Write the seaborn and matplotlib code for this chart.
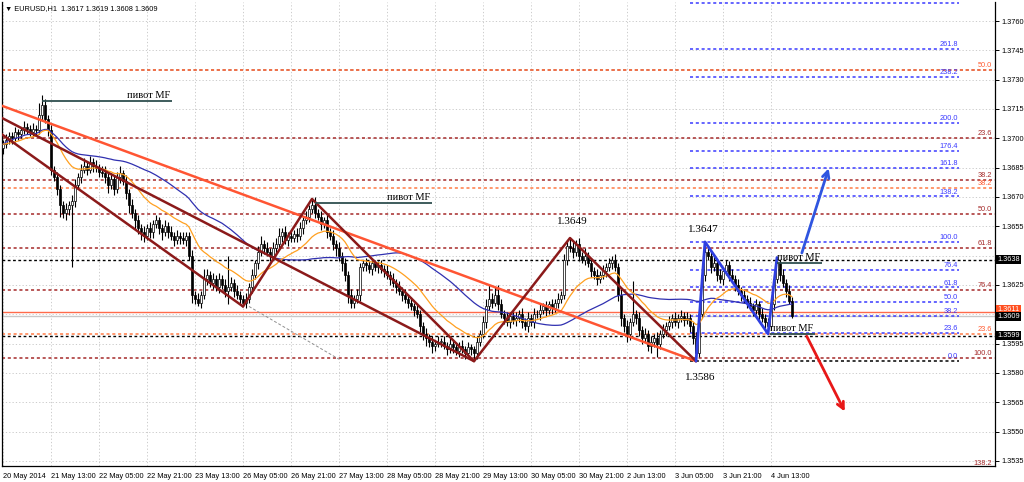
import numpy as np
import pandas as pd
import matplotlib
matplotlib.use("Agg")
import matplotlib.pyplot as plt
import seaborn as sns

# ---------------- data (EURUSD H1, pips relative to BASE) ----------------
BASE = 1.3600
first_open_pips = 95
close_pips = [
    97, 99, 101, 100, 103, 102, 104, 106, 105, 103, 105, 104,
    112, 117, 110, 104,
    84, 80, 74, 66, 62, 64, 66,
    68,
    76, 80, 84,
    86, 84, 88, 86, 85, 83, 82,
    80, 76, 79, 74,
    80, 82, 78,
    72, 66, 62,
    58, 54, 52, 50, 54,
    52, 56, 58, 54, 52,
    55, 52, 50, 48, 50,
    49, 48, 50,
    40, 20, 18, 16,
    20, 28, 30, 26,
    28, 24, 28, 25, 22, 24,
    26, 22, 20, 18, 16,
    18, 24, 30, 36, 42, 46, 44,
    42, 40, 44,
    46, 50, 52, 48, 50, 49, 51, 50,
    54, 58, 60,
    64, 66, 62, 60,
    56, 58, 52, 50,
    46, 44, 40, 36, 30,
    20, 16, 18, 20,
    34, 36, 35, 33, 36, 34, 35, 33,
    32, 30, 28, 26, 24,
    22, 20, 18, 16, 14, 12, 10,
    4, 0, -2, -4, -6, -5, -4,
    -4, -6, -8, -5, -7, -9, -6, -8, -10, -7, -8,
    -10,
    -4, 0, 6, 14, 18, 16, 20, 15,
    10, 8, 6, 9, 7, 8, 10,
    6, 4, 8, 6, 10,
    10, 12, 14, 12, 15, 13, 16, 18,
    20, 38, 45,
    44, 42, 46, 40, 38, 40, 36,
    32, 30, 28, 30, 32, 34,
    36, 38, 34, 20,
    8, 4, 0, 6, 10, 8, 2,
    -2, 0, -6, -4, -2, -5,
    0, 2, 4, 6, 8, 6, 8, 9, 7, 8,
    4, -2, -10,
    10, 30, 42,
    40, 34, 36, 30, 28, 32, 35, 30, 28,
    25, 22, 20, 18, 16, 14, 12, 15,
    10, 8, 6, 4,
    15, 28, 36,
    30, 26, 22, 17, 9,
]
up_wick = [
    2, 3, 2, 2, 3, 2, 2, 3, 2, 2,  3, 2, 6, 5, 3, 2, 3, 2, 3, 2,
    2, 3, 2, 3, 3, 2, 3, 4, 2, 3,  2, 3, 2, 3, 4, 2, 3, 2, 3, 4,
    2, 3, 2, 3, 2, 3, 2, 3, 2, 3,  2, 3, 2, 2, 3, 2, 3, 2, 3, 2,
    3, 2, 2, 3, 2, 3, 2, 5, 3, 2,  3, 2, 3, 2, 3, 16, 3, 2, 3, 2,
    2, 3, 2, 3, 2, 3, 4, 2, 3, 2,  3, 3, 4, 2, 3, 2, 3, 2, 3, 3,
    2, 3, 2, 3, 4, 2, 3, 2, 3, 2,  3, 2, 3, 2, 3, 2, 3, 2, 3, 2,
    2, 3, 2, 3, 2, 2, 3, 2, 3, 2,  3, 2, 3, 2, 3, 2, 3, 2, 3, 2,
    2, 3, 2, 3, 2, 3, 2, 3, 2, 3,  2, 3, 2, 3, 2, 3, 2, 2, 3, 2,
    3, 4, 7, 3, 4, 5, 3, 2, 3, 2,  2, 3, 2, 3, 2, 3, 2, 3, 2, 3,
    2, 3, 2, 3, 2, 3, 2, 3, 3, 4,  3, 2, 3, 2, 4, 2, 3, 2, 3, 2,
    3, 2, 3, 2, 3, 2, 3, 2, 3, 2,  17, 2, 3, 2, 3, 2, 3, 2, 3, 2,
    3, 2, 3, 2, 3, 2, 3, 2, 3, 2,  2, 3, 2, 3, 5, 2, 3, 4, 2, 3,
    2, 3, 2, 3, 2, 3, 2, 3, 2, 3,  2, 3, 2, 3, 2, 2, 3, 2, 3, 2,
    3, 2, 3, 2,
]
down_wick = [
    3, 2, 2, 3, 2, 3, 2, 2, 3, 2,  2, 3, 2, 3, 2, 3, 3, 2, 3, 6,
    3, 4, 3, 32, 3, 2, 3, 2, 3, 2,  3, 2, 3, 2, 3, 4, 2, 3, 2, 3,
    2, 3, 4, 3, 5, 3, 4, 3, 2, 3,  3, 2, 3, 4, 2, 3, 2, 3, 2, 3,
    2, 3, 2, 4, 3, 2, 3, 2, 3, 2,  3, 2, 3, 2, 3, 7, 2, 3, 2, 3,
    2, 3, 2, 3, 2, 3, 2, 3, 2, 3,  2, 3, 2, 3, 2, 3, 2, 2, 3, 2,
    3, 2, 3, 2, 3, 2, 3, 2, 3, 2,  3, 4, 3, 4, 3, 4, 3, 3, 2, 3,
    2, 3, 2, 3, 2, 3, 2, 3, 2, 3,  2, 3, 2, 3, 2, 3, 2, 3, 2, 3,
    3, 4, 3, 4, 3, 2, 3, 2, 3, 2,  3, 2, 3, 2, 3, 2, 3, 4, 3, 2,
    2, 3, 2, 3, 2, 3, 2, 3, 2, 3,  2, 3, 2, 3, 2, 3, 2, 3, 2, 3,
    2, 3, 2, 3, 2, 3, 2, 2, 3, 2,  3, 2, 3, 2, 3, 2, 3, 2, 3, 2,
    2, 3, 2, 3, 2, 3, 4, 3, 4, 3,  2, 3, 3, 3, 2, 3, 4, 3, 7, 3,
    2, 3, 2, 3, 2, 3, 2, 3, 2, 3,  3, 4, 2, 2, 3, 2, 3, 2, 3, 2,
    3, 2, 3, 2, 3, 2, 3, 2, 3, 2,  3, 2, 3, 2, 3, 4, 2, 3, 2, 3,
    2, 3, 2, 1,
]

x_tick_bars = [0, 16, 32, 48, 64, 80, 96, 112, 128, 144, 160, 176, 192, 208, 224, 240, 256]
x_tick_labels = ["20 May 2014", "21 May 13:00", "22 May 05:00", "22 May 21:00", "23 May 13:00",
                 "26 May 05:00", "26 May 21:00", "27 May 13:00", "28 May 05:00", "28 May 21:00",
                 "29 May 13:00", "30 May 05:00", "30 May 21:00", "2 Jun 13:00", "3 Jun 05:00",
                 "3 Jun 21:00", "4 Jun 13:00"]
y_ticks = [1.3760, 1.3745, 1.3730, 1.3715, 1.3700, 1.3685, 1.3670, 1.3655, 1.3640,
           1.3625, 1.3610, 1.3595, 1.3580, 1.3565, 1.3550, 1.3535]
y_hidden_ticks = [1.3640, 1.3610]   # covered by price boxes

# Fibonacci objects
fib_red_0, fib_red_100 = 1.37349, 1.35876
fib_red_levels = [0.0, 23.6, 38.2, 50.0, 61.8, 76.4, 100.0, 138.2]
fib_orange_0, fib_orange_100 = 1.34794, 1.39904
fib_orange_levels = [23.6, 38.2, 50.0]
fib_blue_0, fib_blue_100 = 1.3586, 1.3647
fib_blue_levels = [0.0, 23.6, 38.2, 50.0, 61.8, 76.4, 100.0, 138.2, 161.8, 176.4, 200.0, 238.2, 261.8, 300.0]

# horizontal price lines
black_hlines = [1.3638, 1.3599]
bid_price = 1.3609
red_hline = 1.3611

# trend lines (bar index, price)
orange_trend_bars, orange_trend_prices = [-1, 231], [1.37170, 1.3586]
red_upper_bars, red_upper_prices = [-1, 157], [1.37109, 1.3586]
red_lower_bars, red_lower_prices = [-1, 80], [1.37027, 1.3614]
grey_ext_bars, grey_ext_prices = [82, 112], [1.3614, 1.3587]
red_zz_bars, red_zz_prices = [80, 103, 157, 189, 231], [1.3614, 1.3669, 1.3586, 1.3649, 1.3586]
blue_zz_bars, blue_zz_prices = [231, 234, 255, 258], [1.3586, 1.3647, 1.3600, 1.3639]
blue_arrow = [(266.0, 1.3640), (275.5, 1.3686)]
red_arrow = [(267.5, 1.3600), (281.0, 1.3559)]

pivot_start = [13, 104, 258, 255.7]
pivot_end = [56.3, 143, 273, 270.7]
pivot_price = [1.3719, 1.3667, 1.3636, 1.3600]

price_notes = ["1.3649", "1.3647", "1.3586"]
price_note_pos = [(189.7, 1.36572), (233.3, 1.36535), (232.3, 1.35779)]

title = "\u25bc EURUSD,H1  1.3617 1.3619 1.3608 1.3609"

# ---------------- derived ----------------
n = len(close_pips)
bars = np.arange(n)
close = BASE + np.array(close_pips) / 1e4
opn = BASE + np.array([first_open_pips] + close_pips[:-1]) / 1e4
high = np.maximum(opn, close) + np.array(up_wick) / 1e4
low = np.minimum(opn, close) - np.array(down_wick) / 1e4
df = pd.DataFrame({"bar": bars, "close": close})
df["ema"] = df["close"].ewm(span=21, adjust=False).mean()
df["sma"] = df["close"].rolling(50, min_periods=1).mean()

# ---------------- plot ----------------
sns.set_style("white")
SANS = ["Liberation Sans", "DejaVu Sans"]
SERIF = ["Liberation Serif", "DejaVu Serif"]
plt.rcParams["font.family"] = SANS
FS = 5.3

fig = plt.figure(figsize=(10.24, 4.82), dpi=100)
ax = fig.add_axes([2 / 1024, 16 / 482, 993 / 1024, 464 / 482])
XL, XR = -1 / 3, 331 - 1 / 3
ax.set_xlim(XL, XR)
ax.set_ylim(1.353238, 1.376972)

# ticks + grid
ax.set_xticks(x_tick_bars)
ax.set_xticklabels(x_tick_labels, ha="left", fontsize=FS)
ax.yaxis.tick_right()
ax.set_yticks(y_ticks)
ax.set_yticklabels(["" if v in y_hidden_ticks else f"{v:.4f}" for v in y_ticks], fontsize=FS)
ax.tick_params(axis="both", length=3, width=0.7, pad=1.5, colors="black")
ax.tick_params(axis="x", pad=2)
ax.grid(True, color="#c4c4c4", linestyle=(0, (1.5, 2.5)), linewidth=0.6)
ax.set_axisbelow(True)
for s in ["left", "right", "bottom"]:
    ax.spines[s].set_color("black")
    ax.spines[s].set_linewidth(0.9)
ax.spines["top"].set_visible(False)

DOT = (0, (2, 1.8))
# red fib
for lv in fib_red_levels:
    p = fib_red_0 + (fib_red_100 - fib_red_0) * lv / 100
    ax.hlines(p, XL, XR, colors="#a52a2a", linestyles=DOT, lw=1.1, zorder=2)
    if lv != 0.0:
        ax.text(329.7, p + 0.00004, f"{lv:.1f}", color="#a52a2a", fontsize=FS,
                ha="right", va="bottom", zorder=4, clip_on=True)
# orange fib
for lv in fib_orange_levels:
    p = fib_orange_0 + (fib_orange_100 - fib_orange_0) * lv / 100
    ax.hlines(p, XL, XR, colors="#ff7a45", linestyles=DOT, lw=1.1, zorder=2)
    ax.text(329.7, p + 0.00004, f"{lv:.1f}", color="#ff5a30", fontsize=FS,
            ha="right", va="bottom", zorder=4, clip_on=True)
# black horizontals
for p in black_hlines:
    ax.hlines(p, XL, XR, colors="black", linestyles=DOT, lw=1.0, zorder=2)
# blue fib
for lv in fib_blue_levels:
    p = fib_blue_0 + (fib_blue_100 - fib_blue_0) * lv / 100
    col = "black" if lv == 0.0 else "#3a3aff"
    ax.hlines(p, 229, 318.5, colors=col, linestyles=DOT, lw=1.1, zorder=2.1)
    if p < 1.3765:
        ax.text(318.3, p + 0.00004, f"{lv:.1f}", color="#3a3aff", fontsize=FS,
                ha="right", va="bottom", zorder=4, clip_on=True)

# bid & red horizontal
ax.axhline(red_hline, color="#ff6a4a", lw=1.0, zorder=2)
ax.axhline(bid_price, color="#c8c8c8", lw=1.0, zorder=2)

# candles
bull = close >= opn
ax.vlines(bars, low, high, colors="black", lw=0.8, zorder=3)
body_h = np.maximum(np.abs(close - opn), 0.00002)
ax.bar(bars[bull], body_h[bull], bottom=np.minimum(opn, close)[bull], width=0.62,
       color="white", edgecolor="black", linewidth=0.5, zorder=3.1)
ax.bar(bars[~bull], body_h[~bull], bottom=np.minimum(opn, close)[~bull], width=0.62,
       color="black", edgecolor="black", linewidth=0.5, zorder=3.1)

# moving averages (seaborn)
sns.lineplot(data=df, x="bar", y="sma", ax=ax, color="#3030b0", lw=0.9, zorder=3.3)
sns.lineplot(data=df, x="bar", y="ema", ax=ax, color="#ffa020", lw=0.9, zorder=3.3)

# trend lines
ax.plot(orange_trend_bars, orange_trend_prices, color="#ff5533", lw=1.8, zorder=4)
ax.plot(red_upper_bars, red_upper_prices, color="#8b1a1a", lw=1.8, zorder=4)
ax.plot(red_lower_bars, red_lower_prices, color="#8b1a1a", lw=1.8, zorder=4)
ax.plot(grey_ext_bars, grey_ext_prices, color="#909090", lw=0.7, ls=(0, (3, 2)), zorder=4)
ax.plot(red_zz_bars, red_zz_prices, color="#8b1a1a", lw=1.8, zorder=4)
ax.plot(blue_zz_bars, blue_zz_prices, color="#2f3fe0", lw=2.0, zorder=4)
ax.annotate("", xy=blue_arrow[1], xytext=blue_arrow[0],
            arrowprops=dict(arrowstyle="->", color="#2f55e0", lw=2.0, mutation_scale=12), zorder=4)
ax.annotate("", xy=red_arrow[1], xytext=red_arrow[0],
            arrowprops=dict(arrowstyle="->", color="#e81818", lw=2.0, mutation_scale=12), zorder=4)

# pivots
for s, e, p in zip(pivot_start, pivot_end, pivot_price):
    ax.hlines(p, s, e, colors="#2f4f4f", lw=1.3, zorder=4.5)
    ax.text(e - 0.5, p + 0.00005, "пивот MF", family=SERIF, fontsize=7.5, color="black",
            ha="right", va="bottom", zorder=5)

for txt, (bx, p) in zip(price_notes, price_note_pos):
    ax.text(bx, p, txt, family=SERIF, fontsize=8, color="black", ha="center", va="center", zorder=5)

# right-side price boxes
yt = ax.get_yaxis_transform()
ax.text(1.0025, red_hline + 0.00012, "1.3611", transform=yt, fontsize=FS, color="white", va="center",
        ha="left", clip_on=False, zorder=6,
        bbox=dict(boxstyle="square,pad=0.15", fc="#ff4f20", ec="none"))
for p, lab in [(1.3638, "1.3638"), (bid_price, "1.3609"), (1.3599, "1.3599")]:
    ax.text(1.0025, p, lab, transform=yt, fontsize=FS, color="white", va="center", ha="left",
            clip_on=False, zorder=7, bbox=dict(boxstyle="square,pad=0.15", fc="black", ec="none"))

ax.set_xlabel("")
ax.set_ylabel("")
fig.text(5 / 1024, 1 - 9 / 482, title, fontsize=5.3, va="center", ha="left", color="black")

fig.savefig("out.png", dpi=100)
